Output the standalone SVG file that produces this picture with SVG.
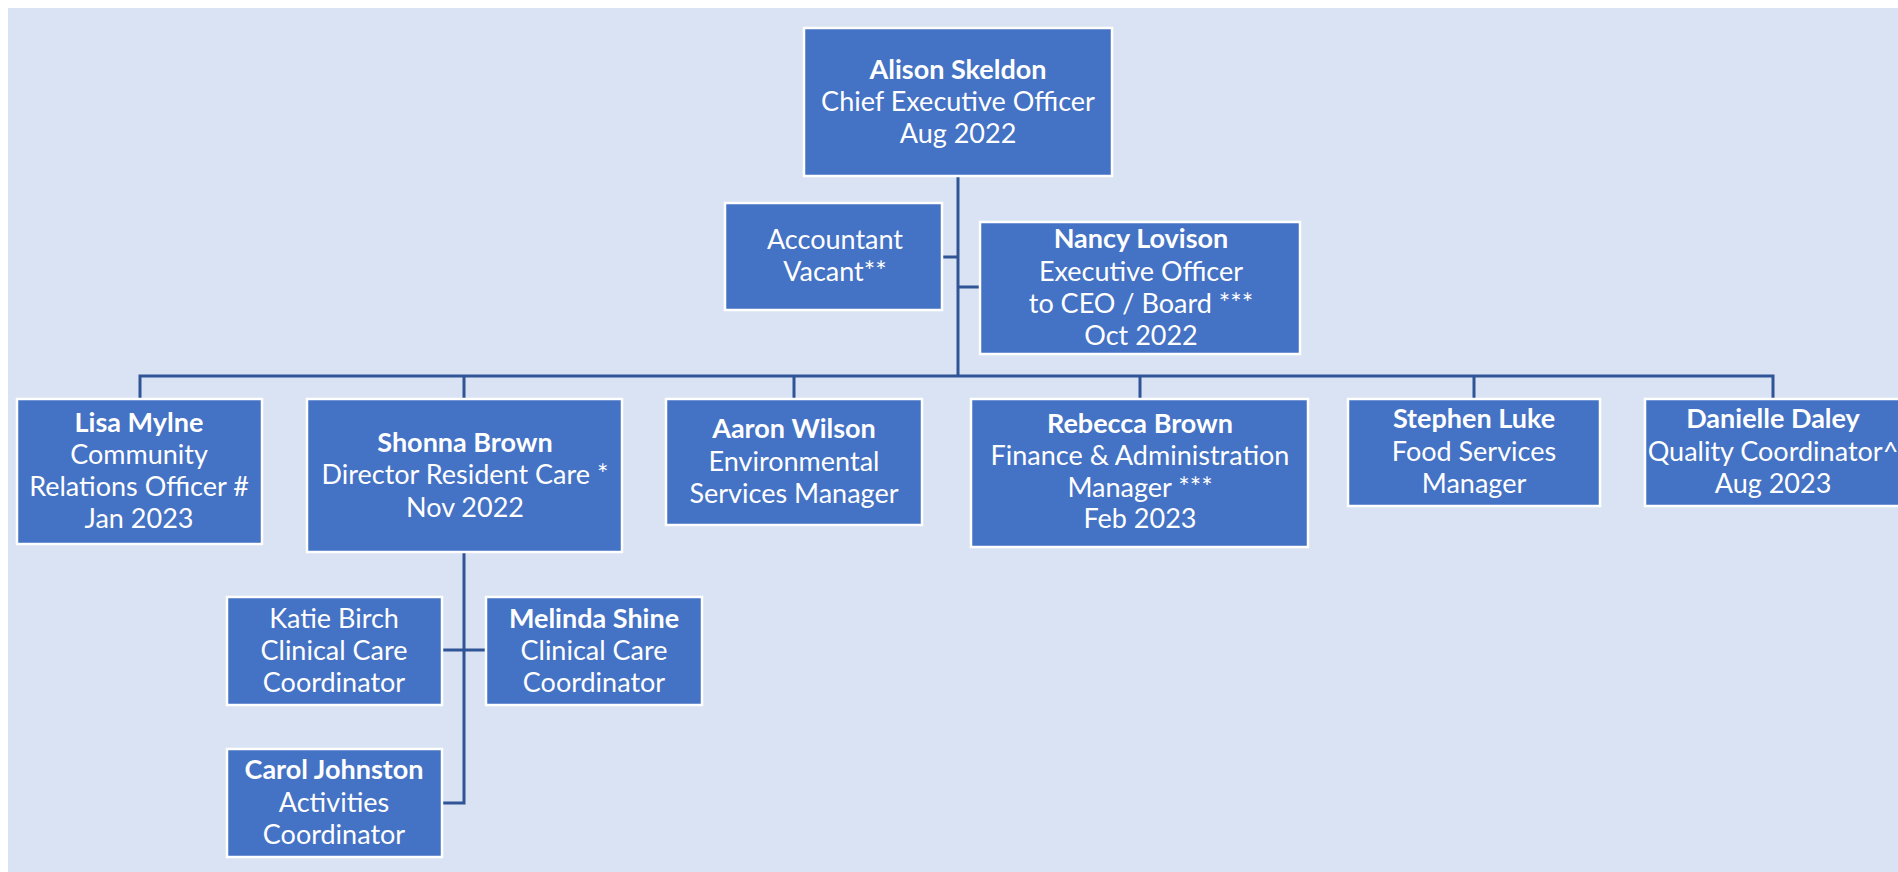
<svg xmlns="http://www.w3.org/2000/svg" width="1898" height="872" viewBox="0 0 1898 872">
<style>
.box{fill:#4472C4;stroke:#FFFFFF;stroke-width:2.5}
.t{font-family:Lato,"Liberation Sans",sans-serif;font-size:27px;fill:#FFFFFF;text-anchor:middle}
.b{font-weight:bold}
.ln{stroke:#2F5597;stroke-width:3;fill:none}
</style>
<rect x="0" y="0" width="1898" height="872" fill="#FFFFFF"/>
<rect x="8" y="8" width="1890" height="864" fill="#DAE3F3"/>
<g id="connectors">
<path class="ln" d="M958 176V376M942 257H958M958 287H980"/>
<path class="ln" d="M140 398V376H1773V398M464 376V398M794 376V398M1140 376V398M1474 376V398"/>
<path class="ln" d="M464 552V803H442M442 650H486"/>
</g>
<g id="ceo"><rect class="box" x="804" y="28" width="308" height="148"/>
<text class="t" x="958" y="79"><tspan class="b">Alison Skeldon</tspan><tspan x="958" y="111">Chief Executive Officer</tspan><tspan x="958" y="143">Aug 2022</tspan></text></g>
<g id="accountant"><rect class="box" x="725" y="203" width="217" height="107"/>
<text class="t" x="835" y="249">Accountant<tspan x="835" y="281">Vacant**</tspan></text></g>
<g id="nancy"><rect class="box" x="980" y="222" width="320" height="132"/>
<text class="t" x="1141" y="248"><tspan class="b">Nancy Lovison</tspan><tspan x="1141" y="281">Executive Officer</tspan><tspan x="1141" y="313">to CEO / Board ***</tspan><tspan x="1141" y="345">Oct 2022</tspan></text></g>
<g id="lisa"><rect class="box" x="17" y="399" width="245" height="145"/>
<text class="t" x="139" y="432"><tspan class="b">Lisa Mylne</tspan><tspan x="139" y="464">Community</tspan><tspan x="139" y="496">Relations Officer #</tspan><tspan x="139" y="528">Jan 2023</tspan></text></g>
<g id="shonna"><rect class="box" x="307" y="399" width="315" height="153"/>
<text class="t" x="465" y="452"><tspan class="b">Shonna Brown</tspan><tspan x="465" y="484">Director Resident Care *</tspan><tspan x="465" y="517">Nov 2022</tspan></text></g>
<g id="aaron"><rect class="box" x="666" y="399" width="256" height="126"/>
<text class="t" x="794" y="438"><tspan class="b">Aaron Wilson</tspan><tspan x="794" y="471">Environmental</tspan><tspan x="794" y="503">Services Manager</tspan></text></g>
<g id="rebecca"><rect class="box" x="971" y="399" width="337" height="148"/>
<text class="t" x="1140" y="433"><tspan class="b">Rebecca Brown</tspan><tspan x="1140" y="465">Finance &amp; Administration</tspan><tspan x="1140" y="497">Manager ***</tspan><tspan x="1140" y="528">Feb 2023</tspan></text></g>
<g id="stephen"><rect class="box" x="1348" y="399" width="252" height="107"/>
<text class="t" x="1474" y="428"><tspan class="b">Stephen Luke</tspan><tspan x="1474" y="461">Food Services</tspan><tspan x="1474" y="493">Manager</tspan></text></g>
<g id="danielle"><rect class="box" x="1645" y="399" width="260" height="107"/>
<text class="t" x="1773" y="428"><tspan class="b">Danielle Daley</tspan><tspan x="1773" y="461">Quality Coordinator^</tspan><tspan x="1773" y="493">Aug 2023</tspan></text></g>
<g id="katie"><rect class="box" x="227" y="597" width="215" height="108"/>
<text class="t" x="334" y="628">Katie Birch<tspan x="334" y="660">Clinical Care</tspan><tspan x="334" y="692">Coordinator</tspan></text></g>
<g id="melinda"><rect class="box" x="486" y="597" width="216" height="108"/>
<text class="t" x="594" y="628"><tspan class="b">Melinda Shine</tspan><tspan x="594" y="660">Clinical Care</tspan><tspan x="594" y="692">Coordinator</tspan></text></g>
<g id="carol"><rect class="box" x="227" y="749" width="215" height="108"/>
<text class="t" x="334" y="779"><tspan class="b">Carol Johnston</tspan><tspan x="334" y="812">Activities</tspan><tspan x="334" y="844">Coordinator</tspan></text></g>
</svg>
